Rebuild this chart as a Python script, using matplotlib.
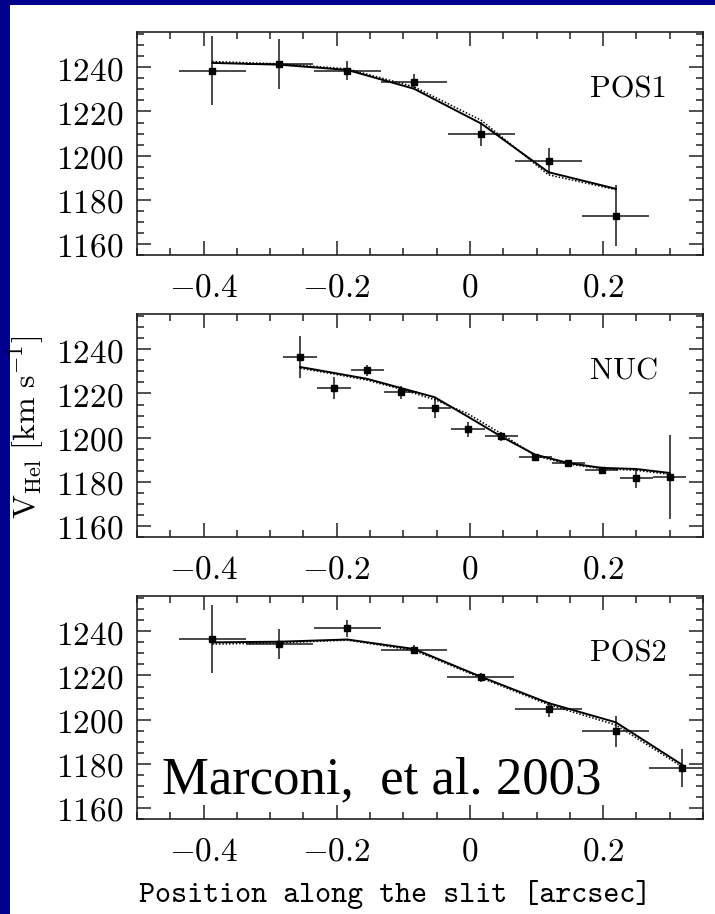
import matplotlib
matplotlib.use('Agg')
import matplotlib.pyplot as plt
from matplotlib.patches import Rectangle
from matplotlib.ticker import FixedLocator, MultipleLocator, FuncFormatter

plt.rcParams['mathtext.fontset'] = 'cm'

# POS1 slit
pos1_x = [-0.387, -0.286, -0.184, -0.084, 0.017, 0.118, 0.219]
pos1_v = [1238.5, 1241.4, 1238.5, 1233.5, 1209.7, 1197.7, 1172.7]
pos1_verr = [15.5, 11.4, 4.2, 3.3, 5.5, 5.9, 13.8]
pos1_xerr = [0.05, 0.05, 0.05, 0.05, 0.05, 0.05, 0.05]
pos1_model = [1242.0, 1241.2, 1238.8, 1230.3, 1214.5, 1192.5, 1185.0]
pos1_model2 = [1242.6, 1241.6, 1239.3, 1231.2, 1216.0, 1191.3, 1184.6]

# nuclear slit
nuc_x = [-0.255, -0.204, -0.154, -0.104, -0.053, -0.003, 0.047, 0.098, 0.148, 0.198, 0.250, 0.300]
nuc_v = [1236.5, 1222.6, 1230.5, 1220.5, 1213.5, 1203.7, 1200.6, 1191.1, 1188.3, 1185.4, 1181.8, 1182.2]
nuc_verr = [9.6, 5.0, 2.5, 3.0, 4.5, 3.5, 2.0, 1.7, 1.4, 1.5, 4.4, 19.0]
nuc_xerr = [0.025, 0.025, 0.025, 0.025, 0.025, 0.025, 0.025, 0.025, 0.025, 0.025, 0.025, 0.025]
nuc_model = [1232.0, 1229.3, 1226.6, 1222.5, 1218.3, 1209.5, 1200.5, 1192.3, 1188.5, 1186.3, 1185.8, 1184.0]
nuc_model2 = [1231.4, 1228.8, 1226.0, 1222.0, 1217.2, 1210.8, 1201.8, 1191.8, 1188.0, 1186.0, 1185.2, 1183.4]

# POS2 slit
pos2_x = [-0.387, -0.286, -0.184, -0.084, 0.016, 0.118, 0.219, 0.319]
pos2_v = [1236.4, 1234.3, 1241.4, 1231.6, 1219.2, 1204.6, 1194.7, 1178.2]
pos2_verr = [15.4, 6.9, 3.8, 2.0, 2.0, 3.4, 7.0, 8.5]
pos2_xerr = [0.05, 0.05, 0.05, 0.05, 0.05, 0.05, 0.05, 0.05]
pos2_model = [1235.0, 1235.3, 1236.3, 1232.0, 1219.5, 1207.5, 1198.8, 1179.5]
pos2_model2 = [1234.2, 1234.8, 1236.0, 1231.4, 1219.0, 1206.8, 1197.6, 1178.6]

panels = [
    ('POS1', pos1_x, pos1_v, pos1_xerr, pos1_verr, pos1_model, pos1_model2),
    ('NUC', nuc_x, nuc_v, nuc_xerr, nuc_verr, nuc_model, nuc_model2),
    ('POS2', pos2_x, pos2_v, pos2_xerr, pos2_verr, pos2_model, pos2_model2),
]
x_ticks = [-0.4, -0.2, 0, 0.2]
y_ticks = [1160, 1180, 1200, 1220, 1240]

W, H = 715, 914
fig = plt.figure(figsize=(W / 100, H / 100), dpi=100, facecolor='#00008C')
fig.add_artist(Rectangle((10 / W, 0), 1, 1 - 5 / H, transform=fig.transFigure,
                         facecolor='white', edgecolor='none', zorder=-10))

fmt = FuncFormatter(lambda v, pos: r'$%g$' % v)
tops = [32, 314, 596]
for (name, x, v, xe, ve, m1, m2), top in zip(panels, tops):
    ax = fig.add_axes([137 / W, 1 - (top + 223) / H, 566 / W, 223 / H])
    ax.errorbar(x, v, xerr=xe, yerr=ve, fmt='s', ms=4.5, color='k',
                ecolor='#3a3a3a', elinewidth=1.3, capsize=0, zorder=3)
    ax.plot(x, m1, color='k', lw=1.4, zorder=4)
    ax.plot(x, m2, color='k', lw=1.1, ls=(0, (1, 1.2)), zorder=4)
    ax.text(0.18, 1230, name, fontfamily='cmr10', fontsize=22, ha='left', va='center')

    ax.set_xlim(-0.5, 0.35)
    ax.set_ylim(1155, 1256)
    ax.xaxis.set_major_locator(FixedLocator(x_ticks))
    ax.xaxis.set_minor_locator(MultipleLocator(0.05))
    ax.yaxis.set_major_locator(FixedLocator(y_ticks))
    ax.yaxis.set_minor_locator(MultipleLocator(5))
    ax.xaxis.set_major_formatter(fmt)
    ax.yaxis.set_major_formatter(fmt)
    ax.tick_params(which='both', direction='in', top=True, right=True,
                   color='#222222', width=1.1)
    ax.tick_params(which='major', length=10, labelsize=24)
    ax.tick_params(which='minor', length=5)
    ax.tick_params(axis='x', pad=11)
    ax.tick_params(axis='y', pad=10)
    for sp in ax.spines.values():
        sp.set_linewidth(1.2)
        sp.set_color('#222222')

fig.text(26 / W, 1 - 427 / H, r'$\mathrm{V_{Hel}\ [km\ s^{-1}]}$', fontsize=23,
         rotation=90, ha='center', va='center')
fig.text(395 / W, 1 - 902 / H, 'Position along the slit [arcsec]',
         fontfamily='cmtt10', fontsize=22, ha='center', va='baseline')
fig.text(162 / W, 1 - 793 / H, 'Marconi,  et al. 2003',
         fontfamily='Liberation Serif', fontsize=38, ha='left', va='baseline')

fig.savefig('out.png', dpi=100, facecolor=fig.get_facecolor())
